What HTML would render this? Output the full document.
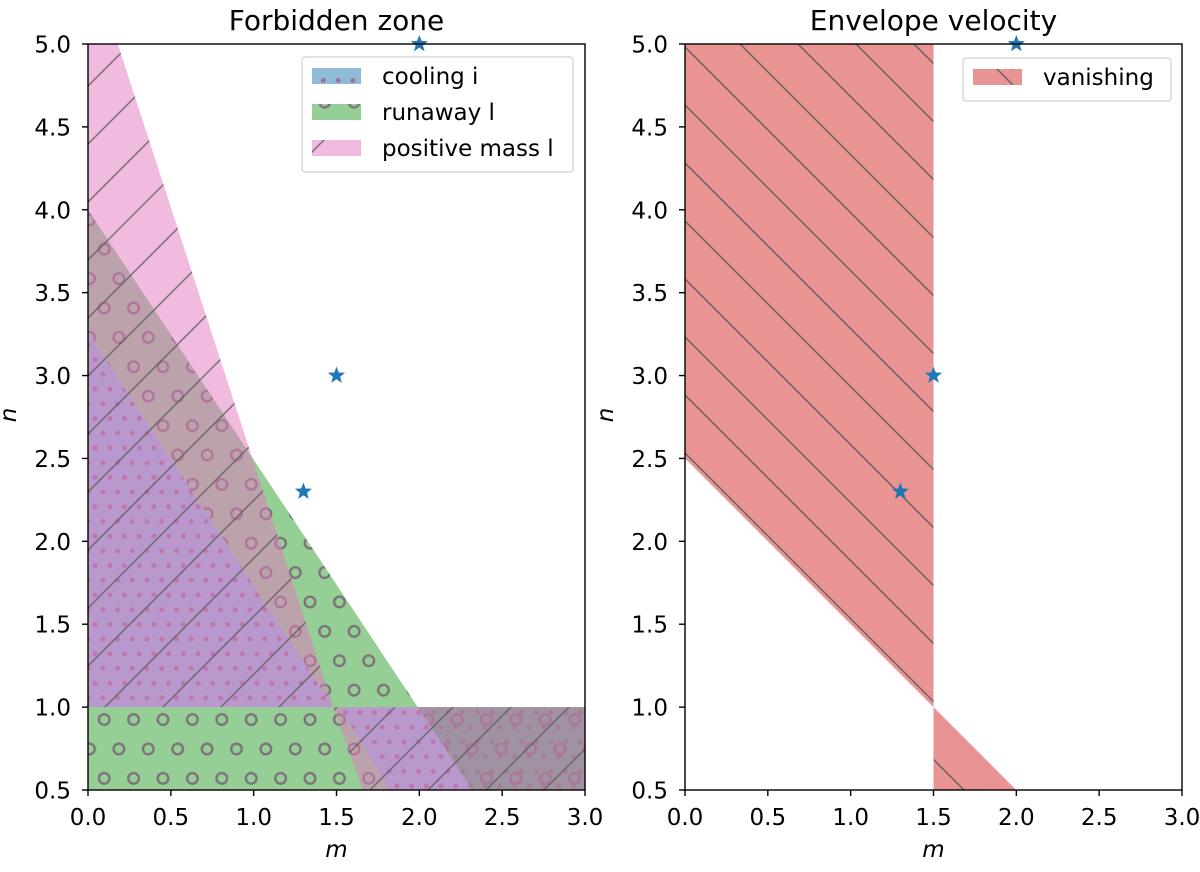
<!DOCTYPE html>
<html><head><meta charset="utf-8"><style>
body{margin:0;background:#fff}
svg text{font-family:"DejaVu Sans","Liberation Sans",sans-serif;fill:#000}
</style></head><body>
<svg id="chart" width="1200" height="867" xmlns="http://www.w3.org/2000/svg">
<defs>
<pattern id="hatchSlash" patternUnits="userSpaceOnUse" width="58" height="58">
<path d="M-5,63 L63,-5 M-5,5 L5,-5 M53,63 L63,53" stroke="#5a5a5a" stroke-opacity="0.75" stroke-width="1.6"/>
</pattern>
<pattern id="hatchBack" patternUnits="userSpaceOnUse" width="58" height="58">
<path d="M-5,-5 L63,63 M53,-5 L63,5 M-5,53 L5,63" stroke="#5a5a5a" stroke-opacity="0.8" stroke-width="1.6"/>
</pattern>
<pattern id="hatchDots" patternUnits="userSpaceOnUse" width="29.4" height="29.4">
<circle cx="7" cy="7" r="2.5" fill="#9a6a8a" fill-opacity="0.85"/>
<circle cx="21.7" cy="7" r="2.5" fill="#9a6a8a" fill-opacity="0.85"/>
<circle cx="0" cy="21.7" r="2.5" fill="#9a6a8a" fill-opacity="0.85"/>
<circle cx="14.7" cy="21.7" r="2.5" fill="#9a6a8a" fill-opacity="0.85"/>
<circle cx="29.4" cy="21.7" r="2.5" fill="#9a6a8a" fill-opacity="0.85"/>
</pattern>
<pattern id="hatchCircles" patternUnits="userSpaceOnUse" width="29.4" height="58.8">
<circle cx="16" cy="14" r="5.3" fill="none" stroke="#7a6a78" stroke-opacity="0.9" stroke-width="2.4"/>
<circle cx="1.3" cy="43.4" r="5.3" fill="none" stroke="#7a6a78" stroke-opacity="0.9" stroke-width="2.4"/>
<circle cx="30.7" cy="43.4" r="5.3" fill="none" stroke="#7a6a78" stroke-opacity="0.9" stroke-width="2.4"/>
</pattern>
<clipPath id="clipL"><rect x="88" y="44" width="497" height="746"/></clipPath>
<clipPath id="clipR"><rect x="685" y="44" width="497" height="746"/></clipPath>
</defs>
<g id="left"></g>
<g id="right"></g>
</svg>
<script>
const coolingRegions = [
  [[0,3.26],[1.48,1.0],[0,1.0]],
  [[1.52,1.0],[3,1.0],[3,0.5],[1.82,0.5]]
];
const runawayRegions = [
  [[0,4],[1.99,1.0],[1.48,1.0],[0,3.26]],
  [[0,1.0],[1.52,1.0],[1.82,0.5],[0,0.5]],
  [[1.99,1.0],[3,1.0],[3,0.5],[2.32,0.5]]
];
const positiveMassRegions = [
  [[0,5],[0.18,5],[1.48,1.0],[0,1.0]],
  [[1.48,1.0],[3,1.0],[3,0.5],[1.66,0.5]]
];
const vanishingRegions = [
  [[0,5],[1.5,5],[1.5,1.0],[0,2.5]],
  [[1.5,1.0],[1.5,0.5],[2.0,0.5]]
];
const starM = [2.0, 1.5, 1.3];
const starN = [5.0, 3.0, 2.3];
const xTicks = [0.0,0.5,1.0,1.5,2.0,2.5,3.0];
const yTicks = [0.5,1.0,1.5,2.0,2.5,3.0,3.5,4.0,4.5,5.0];
const xTickLabels = ["0.0","0.5","1.0","1.5","2.0","2.5","3.0"];
const yTickLabels = ["0.5","1.0","1.5","2.0","2.5","3.0","3.5","4.0","4.5","5.0"];

const NS="http://www.w3.org/2000/svg";
function mk(tag, attrs, parent){const e=document.createElementNS(NS,tag);for(const k in attrs)e.setAttribute(k,attrs[k]);parent.appendChild(e);return e;}
const Y0=44, Y1=790, W=497;
function sx(x0,m){return x0 + m/3*W;}
function sy(n){return Y1 - (n-0.5)/4.5*(Y1-Y0);}
function pts(x0,poly){return poly.map(p=>sx(x0,p[0]).toFixed(1)+','+sy(p[1]).toFixed(1)).join(' ');}
function starPath(cx,cy,R){let r=R*0.42,d='';for(let i=0;i<10;i++){const a=-Math.PI/2+i*Math.PI/5;const rr=i%2?r:R;d+=(i?'L':'M')+(cx+rr*Math.cos(a)).toFixed(1)+','+(cy+rr*Math.sin(a)).toFixed(1);}return d+'Z';}

function regions(g,x0,list,fill,pat,name,clip){
  const grp=mk('g',{'clip-path':'url(#'+clip+')'},g);
  
  
  list.forEach(poly=>{
    const a=mk('polygon',{points:pts(x0,poly),fill:fill,'fill-opacity':0.5},grp);
    
    
    const b=mk('polygon',{points:pts(x0,poly),fill:'url(#'+pat+')'},grp);
    
    
  });
}
function axes(g,x0,title){
  const t=mk('text',{x:x0+W/2,y:30,'text-anchor':'middle','font-size':28},g);t.textContent=title;
  
  
  xTicks.forEach((v,i)=>{const x=sx(x0,v);mk('line',{x1:x,x2:x,y1:Y1,y2:Y1+6,stroke:'#000','stroke-width':1.4},g);
    const l=mk('text',{x:x,y:825,'text-anchor':'middle','font-size':23},g);l.textContent=xTickLabels[i];
    
    });
  yTicks.forEach((v,i)=>{const y=sy(v);mk('line',{x1:x0-6,x2:x0,y1:y,y2:y,stroke:'#000','stroke-width':1.4},g);
    const l=mk('text',{x:x0-17,y:y+8.5,'text-anchor':'end','font-size':23},g);l.textContent=yTickLabels[i];
    
    });
  const xl=mk('text',{x:x0+W/2,y:857,'text-anchor':'middle','font-size':23,'font-style':'italic'},g);xl.textContent='m';
  
  
  const yl=mk('text',{x:x0-72,y:415,'text-anchor':'middle','font-size':23,'font-style':'italic',transform:'rotate(-90 '+(x0-72)+' 415)'},g);yl.textContent='n';
  
  
}
function stars(g,x0){
  const grp=mk('g',{},g);
  starM.forEach((m,i)=>{const s=mk('path',{d:starPath(sx(x0,m),sy(starN[i]),9),fill:'#1f77b4'},grp);
    
    });
}
function frame(g,x0){const f=mk('rect',{x:x0,y:Y0,width:W,height:Y1-Y0,fill:'none',stroke:'#000','stroke-width':1.4},g);
  
  }

const L=document.getElementById('left'), R=document.getElementById('right');
regions(L,88,coolingRegions,'#1f77b4','hatchDots','cooling','clipL');
regions(L,88,runawayRegions,'#2ca02c','hatchCircles','runaway','clipL');
regions(L,88,positiveMassRegions,'#e377c2','hatchSlash','positive-mass','clipL');
stars(L,88);
frame(L,88);
axes(L,88,'Forbidden zone');
regions(R,685,vanishingRegions,'#d62728','hatchBack','vanishing','clipR');
stars(R,685);
frame(R,685);
axes(R,685,'Envelope velocity');

function legend(g,x,y,w,h,entries){
  const lg=mk('g',{},g);
  
  
  mk('rect',{x:x,y:y,width:w,height:h,rx:3,fill:'#fff','fill-opacity':0.85,stroke:'#d0d0d0','stroke-width':1.2},lg);
  entries.forEach((e,i)=>{
    const cy=y+19+i*36;
    const eg=mk('g',{},lg);
    
    
    mk('rect',{x:x+10,y:cy-8,width:49,height:16,fill:e.c,'fill-opacity':0.5},eg);
    mk('rect',{x:x+10,y:cy-8,width:49,height:16,fill:'url(#'+e.p+')'},eg);
    const t=mk('text',{x:x+80,y:cy+8,'font-size':23},eg);t.textContent=e.t;
  });
}
legend(L,302,57,271,115,[{c:'#1f77b4',p:'hatchDots',t:'cooling i'},{c:'#2ca02c',p:'hatchCircles',t:'runaway l'},{c:'#e377c2',p:'hatchSlash',t:'positive mass l'}]);
legend(R,963,58,208,43,[{c:'#d62728',p:'hatchBack',t:'vanishing'}]);
</script>
</body></html>
